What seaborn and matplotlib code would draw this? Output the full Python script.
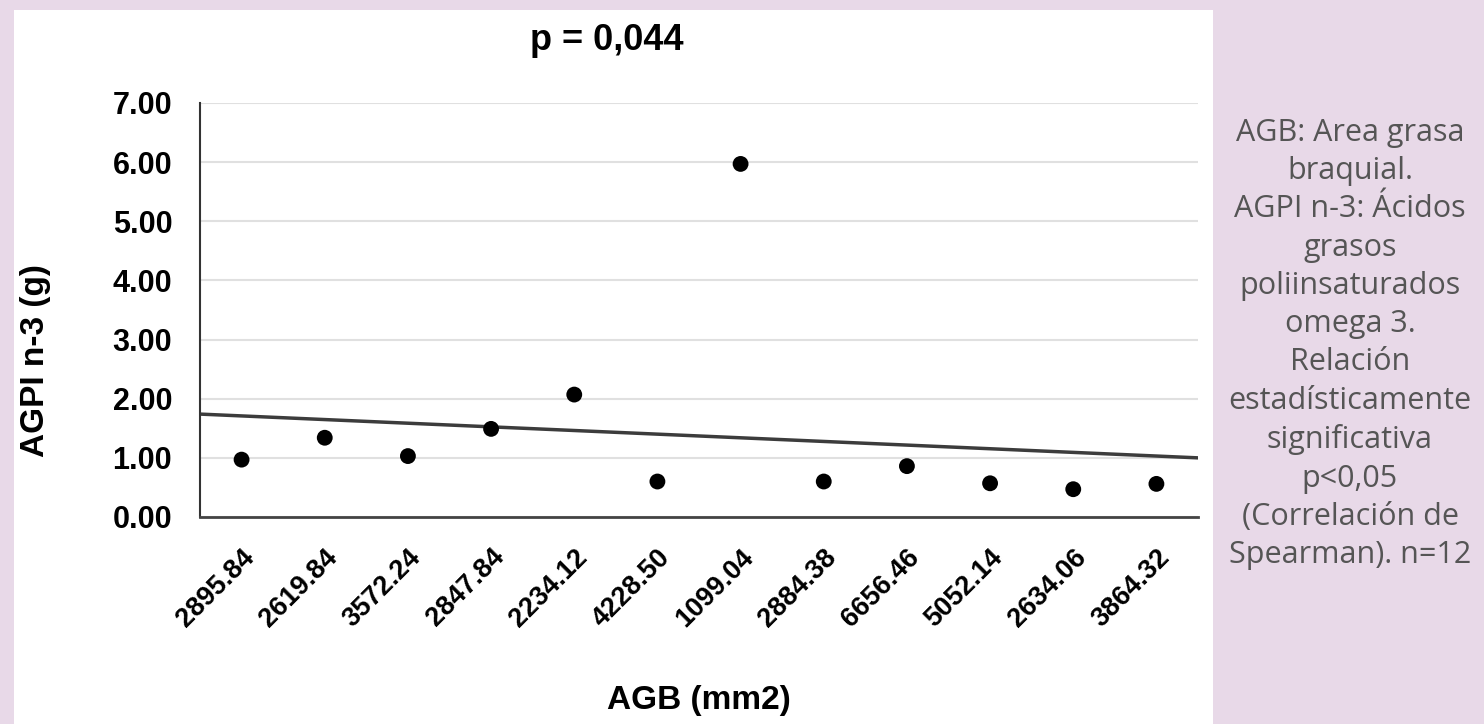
import matplotlib
matplotlib.use("Agg")
import matplotlib.pyplot as plt
import matplotlib.patches as mpatches
import matplotlib.transforms as mtransforms
import seaborn as sns
import pandas as pd

agb_labels = ["2895.84", "2619.84", "3572.24", "2847.84", "2234.12", "4228.50",
              "1099.04", "2884.38", "6656.46", "5052.14", "2634.06", "3864.32"]
agpi_values = [0.97, 1.34, 1.03, 1.49, 2.07, 0.60, 5.97, 0.60, 0.86, 0.57, 0.47, 0.56]
trend_edges = [-0.5, 11.5]
trend_values = [1.74, 1.00]
y_ticks = [0, 1, 2, 3, 4, 5, 6, 7]

note_lines = ["AGB: Area grasa", "braquial.", "AGPI n-3: Ácidos", "grasos",
              "poliinsaturados", "omega 3.", "Relación", "estadísticamente",
              "significativa", "p<0,05", "(Correlación de", "Spearman). n=12"]

df = pd.DataFrame({"AGB": agb_labels, "AGPI": agpi_values})

sns.set_theme(style="white")
plt.rcParams["font.family"] = ["Liberation Sans", "DejaVu Sans"]
plt.rcParams["text.color"] = "black"
plt.rcParams["xtick.color"] = "black"
plt.rcParams["ytick.color"] = "black"

W, H = 1484, 724
fig = plt.figure(figsize=(W / 100, H / 100), dpi=100, facecolor="#e8d9e8")

# white panel behind the chart
panel = mpatches.Rectangle((14 / W, 0), (1213 - 14) / W, 1 - 10 / H,
                           transform=fig.transFigure, facecolor="white",
                           edgecolor="none", zorder=-5)
fig.patches.append(panel)

ax = fig.add_axes([200 / W, 1 - 517 / H, (1198 - 200) / W, (517 - 103) / H])
ax.set_zorder(2)
ax.set_facecolor("none")

sns.scatterplot(data=df, x="AGB", y="AGPI", ax=ax, color="black", s=130,
                edgecolor="none", zorder=3)
ax.plot(trend_edges, trend_values, color="#3c3c3c", lw=2.5, zorder=2)

ax.set_xlim(-0.5, 11.5)
ax.set_ylim(0, 7)
ax.set_yticks(y_ticks)
ax.set_yticklabels([f"{v:.2f}" for v in y_ticks], fontsize=22, fontweight="bold")
ax.yaxis.grid(True, color="#e0e0e0", lw=1.5)
ax.set_axisbelow(True)

ax.tick_params(axis="y", direction="inout", length=16, width=1.5, color="#333333",
               labelcolor="black", pad=12)
ax.tick_params(axis="x", length=0, pad=26, labelcolor="black")
shift = mtransforms.ScaledTranslation(9 / 100, 0, fig.dpi_scale_trans)
for lab in ax.get_xticklabels():
    lab.set_rotation(45)
    lab.set_ha("right")
    lab.set_va("center")
    lab.set_rotation_mode("anchor")
    lab.set_fontsize(19.5)
    lab.set_fontweight("bold")
    lab.set_transform(lab.get_transform() + shift)

for side in ["top", "right"]:
    ax.spines[side].set_visible(False)
ax.spines["left"].set_color("#333333")
ax.spines["left"].set_linewidth(1.5)
ax.spines["bottom"].set_color("#444444")
ax.spines["bottom"].set_linewidth(2)

ax.set_xlabel("")
ax.set_ylabel("")
fig.text(36 / W, 1 - 361 / H, "AGPI n-3 (g)", rotation=90, ha="center", va="center",
         fontsize=24, fontweight="bold")
fig.text(699 / W, 1 - 701 / H, "AGB (mm2)", ha="center", va="center",
         fontsize=24, fontweight="bold")
fig.text(607 / W, 1 - 41 / H, "p = 0,044", ha="center", va="center",
         fontsize=26, fontweight="bold")

fig.text(1350 / W, 1 - 344 / H, "\n".join(note_lines), ha="center", va="center",
         fontsize=22, color="#555555", linespacing=1.36,
         family=["Open Sans", "DejaVu Sans"])

fig.savefig("out.png", dpi=100, facecolor=fig.get_facecolor())
